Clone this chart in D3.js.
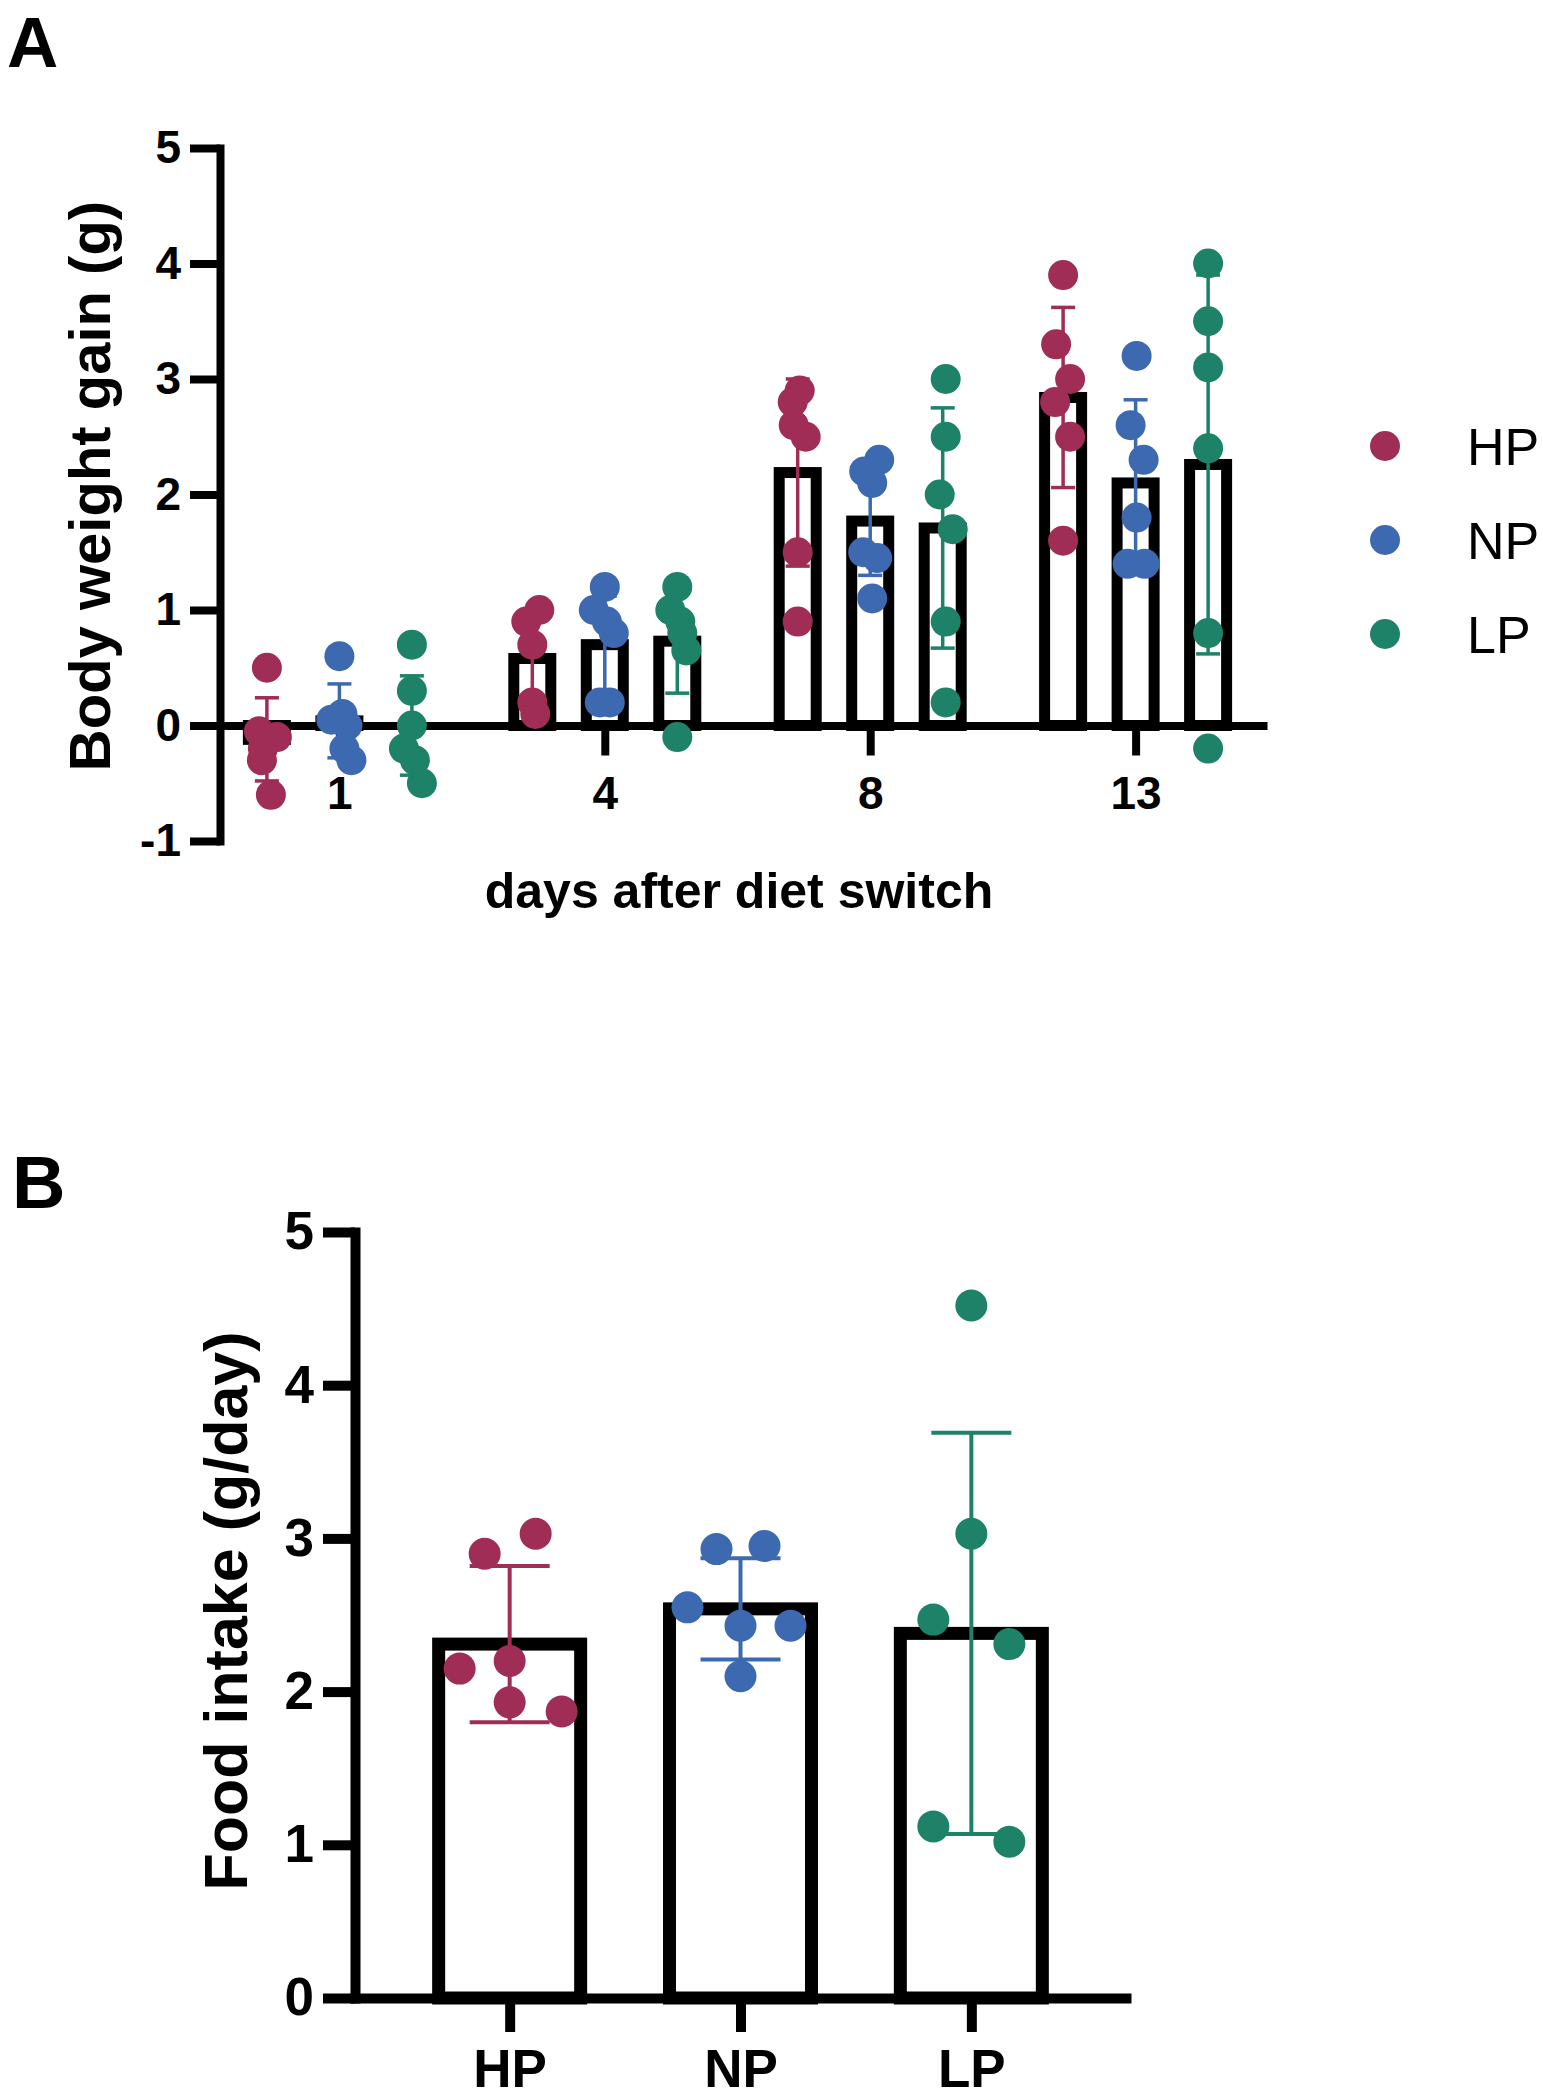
<!DOCTYPE html>
<html>
<head>
<meta charset="utf-8">
<script src="https://cdn.jsdelivr.net/npm/d3@7"></script>
<style>
  html, body { margin: 0; padding: 0; background: #ffffff; }
  svg { display: block; }
  text { font-family: "Liberation Sans", Arial, Helvetica, sans-serif; }
</style>
</head>
<body>
<svg id="chart" width="1543" height="2100"></svg>
<script>
// ---------------- DATA ----------------
const seriesNames = ["HP", "NP", "LP"];
const seriesColors = ["#A02D55", "#3C69AF", "#1E8269"];

// Panel A: body weight gain (g) by days after diet switch
const days = ["1", "4", "8", "13"];
const yTicksA = [-1, 0, 1, 2, 3, 4, 5];
const gainMeanHP = [-0.12, 0.58, 2.19, 2.84];
const gainMeanNP = [0.04, 0.70, 1.77, 2.10];
const gainMeanLP = [0.00, 0.73, 1.71, 2.26];
const gainSdHP = [0.36, 0.39, 0.81, 0.78];
const gainSdNP = [0.32, 0.42, 0.47, 0.72];
const gainSdLP = [0.43, 0.45, 1.04, 1.64];
const gainPtsHP = [[0.5, -0.05, -0.1, -0.2, -0.3, -0.6], [1.0, 0.9, 0.7, 0.2, 0.1], [2.9, 2.8, 2.6, 2.5, 1.5, 0.9], [3.9, 3.3, 3.0, 2.8, 2.5, 1.6]];
const gainPtsNP = [[0.6, 0.1, 0.05, 0.0, -0.2, -0.3], [1.2, 1.0, 0.9, 0.8, 0.2, 0.2], [2.3, 2.2, 2.1, 1.5, 1.45, 1.1], [3.2, 2.6, 2.3, 1.8, 1.4, 1.4]];
const gainPtsLP = [[0.7, 0.3, 0.0, -0.2, -0.3, -0.5], [1.2, 1.0, 0.9, 0.8, 0.65, -0.1], [3.0, 2.5, 2.0, 1.7, 0.9, 0.2], [4.0, 3.5, 3.1, 2.4, 0.8, -0.2]];

// Panel B: food intake (g/day)
const yTicksB = [0, 1, 2, 3, 4, 5];
const intakeMean = [2.31, 2.54, 2.38];
const intakeSd = [0.51, 0.33, 1.31];
const intakePtsHP = [3.03, 2.9, 2.2, 2.15, 1.93, 1.87];
const intakePtsNP = [2.95, 2.93, 2.55, 2.43, 2.43, 2.1];
const intakePtsLP = [4.52, 3.03, 2.47, 2.31, 1.12, 1.02];

// horizontal scatter of dots (layout, px)
const jitterA_HP = [[0, -8, 10, -4, -5, 4], [7, -6, 0, 0, 3], [2, -5, -4, 8, 0, 0], [0, -7, 7, -8, 7, 0]];
const jitterA_NP = [[0, 3, -8, 8, 5, 12], [0, -11, 2, 9, -5, 5], [9, -6, 2, -7, 7, 2], [1, -5, 8, 1, -8, 9]];
const jitterA_LP = [[0, 0, 0, -8, 3, 10], [0, -7, 3, 5, 9, 0], [3, 3, -3, 10, 3, 3], [0, 0, 0, 0, 0, 0]];
const jitterB = [[26, -25, 0, -50, 0, 52], [24, -24, -53, 0, 50, 0], [0, 0, -38, 38, -38, 38]];

// ---------------- BUILD TABLES ----------------
const meansA = [gainMeanHP, gainMeanNP, gainMeanLP];
const sdsA = [gainSdHP, gainSdNP, gainSdLP];
const ptsA = [gainPtsHP, gainPtsNP, gainPtsLP];
const jitA = [jitterA_HP, jitterA_NP, jitterA_LP];
const barsA = [];
const dotsA = [];
days.forEach((d, di) => {
  seriesNames.forEach((s, si) => {
    barsA.push({ day: d, series: s, si, mean: meansA[si][di], sd: sdsA[si][di] });
    ptsA[si][di].forEach((v, k) => dotsA.push({ day: d, series: s, si, value: v, jit: jitA[si][di][k] }));
  });
});
const ptsB = [intakePtsHP, intakePtsNP, intakePtsLP];
const barsB = seriesNames.map((s, si) => ({ series: s, si, mean: intakeMean[si], sd: intakeSd[si] }));
const dotsB = [];
seriesNames.forEach((s, si) => ptsB[si].forEach((v, k) => dotsB.push({ series: s, si, value: v, jit: jitterB[si][k] })));

const color = d3.scaleOrdinal().domain(seriesNames).range(seriesColors);
const svg = d3.select("#chart");
const FONT = '"Liberation Sans", Arial, Helvetica, sans-serif';

function styleAxis(g, width, fontSize) {
  g.attr("font-family", FONT);
  g.selectAll("path.domain").attr("stroke", "#000").attr("stroke-width", width).attr("stroke-linecap", "square");
  g.selectAll(".tick line").attr("stroke", "#000").attr("stroke-width", width).attr("stroke-linecap", "butt");
  g.selectAll(".tick text").attr("fill", "#000").attr("font-size", fontSize).attr("font-weight", "bold");
}

// ---------------- PANEL A ----------------
const yA = d3.scaleLinear().domain([-1, 5]).range([841, 148]);
const xA = d3.scalePoint().domain(days).range([212, 1263]).padding(0.48);
const subA = d3.scalePoint().domain(seriesNames).range([-72.5, 72.5]);
const gA = svg.append("g");

gA.append("text").attr("x", 7).attr("y", 67).attr("font-size", 71).attr("font-weight", "bold").text("A");

// bars
gA.append("g").selectAll("rect").data(barsA).join("rect")
  .attr("x", d => xA(d.day) + subA(d.series) - 18.5)
  .attr("width", 37)
  .attr("y", d => Math.min(yA(d.mean), yA(0)))
  .attr("height", d => Math.abs(yA(d.mean) - yA(0)))
  .attr("fill", "#fff").attr("stroke", "#000").attr("stroke-width", 11);

// axes
const axA_y = gA.append("g").attr("transform", `translate(220,0)`)
  .call(d3.axisLeft(yA).tickValues(yTicksA).tickSize(30).tickSizeOuter(0).tickPadding(9).tickFormat(d => String(d)));
styleAxis(axA_y, 8, 46);
const axA_x = gA.append("g").attr("transform", `translate(0,${yA(0)})`)
  .call(d3.axisBottom(xA).tickSize(30).tickSizeOuter(0).tickPadding(21));
styleAxis(axA_x, 8, 46);

// dots
gA.append("g").selectAll("circle").data(dotsA).join("circle")
  .attr("cx", d => xA(d.day) + subA(d.series) + d.jit)
  .attr("cy", d => yA(d.value))
  .attr("r", 15)
  .attr("fill", d => color(d.series));

// error bars
const ebA = gA.append("g").selectAll("g").data(barsA).join("g")
  .attr("stroke", d => color(d.series)).attr("stroke-width", 3.5);
ebA.append("line")
  .attr("x1", d => xA(d.day) + subA(d.series)).attr("x2", d => xA(d.day) + subA(d.series))
  .attr("y1", d => yA(d.mean - d.sd)).attr("y2", d => yA(d.mean + d.sd));
ebA.append("line")
  .attr("x1", d => xA(d.day) + subA(d.series) - 12).attr("x2", d => xA(d.day) + subA(d.series) + 12)
  .attr("y1", d => yA(d.mean + d.sd)).attr("y2", d => yA(d.mean + d.sd));
ebA.append("line")
  .attr("x1", d => xA(d.day) + subA(d.series) - 12).attr("x2", d => xA(d.day) + subA(d.series) + 12)
  .attr("y1", d => yA(d.mean - d.sd)).attr("y2", d => yA(d.mean - d.sd));

// titles
gA.append("text").attr("transform", "translate(110,486) rotate(-90)")
  .attr("text-anchor", "middle").attr("font-size", 58).attr("font-weight", "bold")
  .text("Body weight gain (g)");
gA.append("text").attr("x", 739).attr("y", 908)
  .attr("text-anchor", "middle").attr("font-size", 50).attr("font-weight", "bold")
  .text("days after diet switch");

// legend
const leg = gA.append("g").selectAll("g").data(seriesNames).join("g")
  .attr("transform", (d, i) => `translate(1385,${446 + i * 94})`);
leg.append("circle").attr("r", 15).attr("fill", d => color(d));
leg.append("text").attr("x", 82).attr("y", 19).attr("font-size", 52).text(d => d);

// ---------------- PANEL B ----------------
const yB = d3.scaleLinear().domain([0, 5]).range([1998, 1232]);
const xB = d3.scalePoint().domain(seriesNames).range([355, 1126]).padding(0.67);
const gB = svg.append("g");

gB.append("text").attr("x", 12).attr("y", 1208).attr("font-size", 74).attr("font-weight", "bold").text("B");

gB.append("g").selectAll("rect").data(barsB).join("rect")
  .attr("x", d => xB(d.series) - 71)
  .attr("width", 142)
  .attr("y", d => yB(d.mean))
  .attr("height", d => yB(0) - yB(d.mean))
  .attr("fill", "#fff").attr("stroke", "#000").attr("stroke-width", 13);

const axB_y = gB.append("g").attr("transform", `translate(355,0)`)
  .call(d3.axisLeft(yB).tickValues(yTicksB).tickSize(32).tickSizeOuter(0).tickPadding(9).tickFormat(d => String(d)));
styleAxis(axB_y, 10, 53);
const axB_x = gB.append("g").attr("transform", `translate(0,${yB(0)})`)
  .call(d3.axisBottom(xB).tickSize(34).tickSizeOuter(0).tickPadding(17));
styleAxis(axB_x, 10, 53);

gB.append("g").selectAll("circle").data(dotsB).join("circle")
  .attr("cx", d => xB(d.series) + d.jit)
  .attr("cy", d => yB(d.value))
  .attr("r", 16)
  .attr("fill", d => color(d.series));

const ebB = gB.append("g").selectAll("g").data(barsB).join("g")
  .attr("stroke", d => color(d.series)).attr("stroke-width", 4);
ebB.append("line")
  .attr("x1", d => xB(d.series)).attr("x2", d => xB(d.series))
  .attr("y1", d => yB(d.mean - d.sd)).attr("y2", d => yB(d.mean + d.sd));
ebB.append("line")
  .attr("x1", d => xB(d.series) - 40).attr("x2", d => xB(d.series) + 40)
  .attr("y1", d => yB(d.mean + d.sd)).attr("y2", d => yB(d.mean + d.sd));
ebB.append("line")
  .attr("x1", d => xB(d.series) - 40).attr("x2", d => xB(d.series) + 40)
  .attr("y1", d => yB(d.mean - d.sd)).attr("y2", d => yB(d.mean - d.sd));

gB.append("text").attr("transform", "translate(247,1611) rotate(-90)")
  .attr("text-anchor", "middle").attr("font-size", 61).attr("font-weight", "bold")
  .text("Food intake (g/day)");
</script>
</body>
</html>
